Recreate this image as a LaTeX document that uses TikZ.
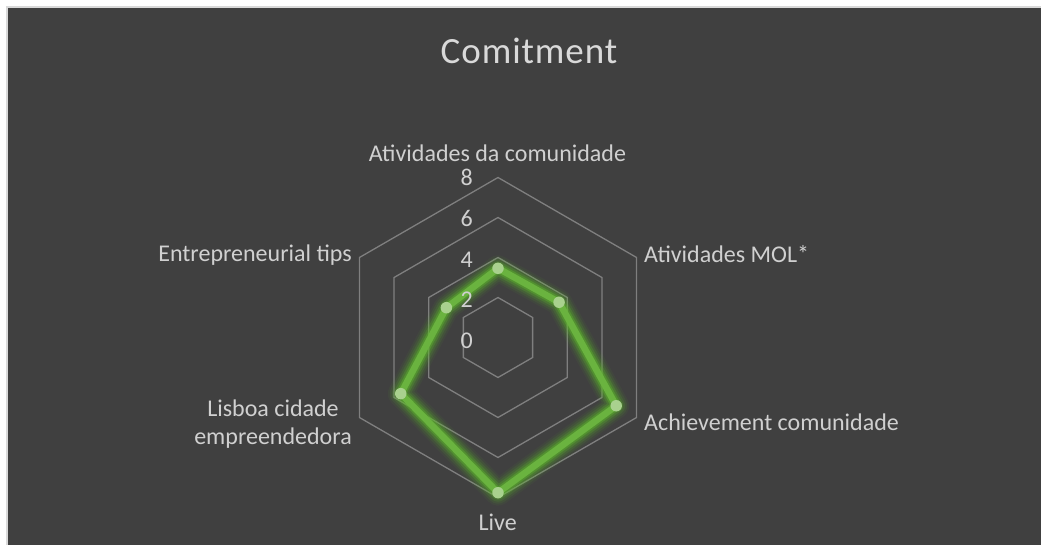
\documentclass[tikz,border=0pt]{standalone}
\usepackage{fontspec}
\setmainfont{Carlito}
\usetikzlibrary{calc}
\definecolor{bg}{HTML}{404040}
\definecolor{framec}{HTML}{D9D9D9}
\definecolor{gridc}{HTML}{7F7F7F}
\definecolor{txt}{HTML}{D0D0D0}
\definecolor{ser}{HTML}{6AB33F}
\definecolor{glowc}{HTML}{5DB82A}
\definecolor{mk}{HTML}{A9D18E}
\begin{document}
\begin{tikzpicture}[x=1pt,y=-1pt,
  lab/.style={text=txt, font=\fontsize{24}{28}\selectfont, inner sep=0pt},
  ticklab/.style={lab, anchor=base east},
  ringline/.style={draw=gridc, line width=1.3pt, line join=miter},
  marker/.style={circle, fill=mk, minimum size=11.5pt, inner sep=0pt, draw=none}]
\useasboundingbox (0,0) rectangle (1041,545);
\fill[white] (0,0) rectangle (1041,545);
\fill[framec] (6,6) rectangle (1041,545);
\fill[bg] (8,8) rectangle (1041,545);
\coordinate (c) at (498,337.5);
% grid rings
\foreach \r in {40,80,120,160}{
  \draw[ringline] ($(c)+(-90:\r)$) -- ($(c)+(-30:\r)$) -- ($(c)+(30:\r)$) -- ($(c)+(90:\r)$) -- ($(c)+(150:\r)$) -- ($(c)+(210:\r)$) -- cycle;
}
% data points
\coordinate (p1) at ($(c)+(-90:69.2)$);
\coordinate (p2) at ($(c)+(-30:70.5)$);
\coordinate (p3) at ($(c)+(30:136.5)$);
\coordinate (p4) at ($(c)+(90:155.2)$);
\coordinate (p5) at ($(c)+(150:112.3)$);
\coordinate (p6) at ($(c)+(210:59.6)$);
% glow
\foreach \w/\o in {26/0.06, 22/0.1, 18/0.15, 14/0.25, 10/0.4}{
  \draw[glowc, line width=\w pt, opacity=\o, line join=round] (p1) -- (p2) -- (p3) -- (p4) -- (p5) -- (p6) -- cycle;
}
\draw[ser, line width=6.5pt, line join=round] (p1) -- (p2) -- (p3) -- (p4) -- (p5) -- (p6) -- cycle;
\foreach \i in {1,...,6}{
  \node[marker] (m\i) at (p\i) {};
}
% title
\node[text=framec, inner sep=0pt, anchor=base, font=\fontsize{37}{44}\selectfont\addfontfeature{LetterSpace=2.5}] (title) at (529,64) {Comitment};
% tick labels
\node[ticklab] (t8) at (473,186) {8};
\node[ticklab] (t6) at (473,227) {6};
\node[ticklab] (t4) at (473,267.7) {4};
\node[ticklab] (t2) at (473,307.7) {2};
\node[ticklab] (t0) at (473,348.3) {0};
% axis labels
\node[lab, anchor=base] (a1) at (497.5,162) {Atividades da comunidade};
\node[lab, anchor=base west] (a2) at (644,262.3) {Atividades MOL*};
\node[lab, anchor=base west] (a3) at (644,430) {Achievement comunidade};
\node[lab, anchor=base] (a4) at (497.7,530) {Live};
\node[lab, anchor=base] (a5a) at (273,416) {Lisboa cidade};
\node[lab, anchor=base] (a5b) at (273,444) {empreendedora};
\node[lab, anchor=base east] (a6) at (352,261.7) {Entrepreneurial tips};
\end{tikzpicture}
\end{document}
